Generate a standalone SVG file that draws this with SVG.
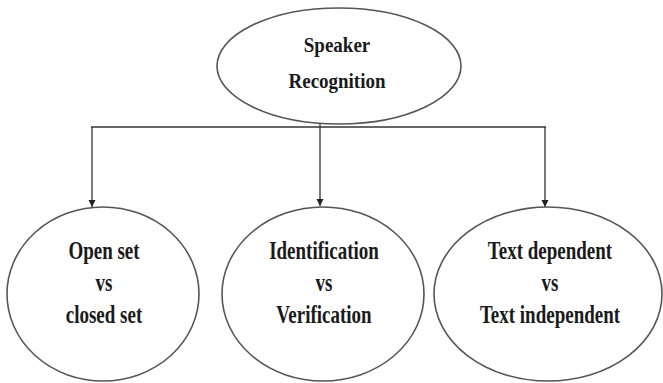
<svg xmlns="http://www.w3.org/2000/svg" width="663" height="383" viewBox="0 0 663 383">
<defs>
<marker id="arr" viewBox="0 0 10 10" refX="10" refY="5" markerWidth="7" markerHeight="9" orient="auto" markerUnits="userSpaceOnUse">
<path d="M0,0 L10,5 L0,10 Z" fill="#222"/>
</marker>
<style>
.shape{fill:#fff;stroke:#555;stroke-width:1.6}
.lbl{font-family:"Liberation Serif","Times New Roman",serif;font-weight:bold;fill:#1a1a1a;text-anchor:middle}
.top{font-size:19px}
.bot{font-size:19px}
.conn{fill:none;stroke:#333;stroke-width:1.3}
.bus{fill:none;stroke:#666;stroke-width:2.2}
</style>
</defs>
<rect width="663" height="383" fill="#fff"/>
<g id="connectors">
<line class="bus" x1="91" y1="127" x2="546" y2="127"/>
<line class="conn" x1="92" y1="127" x2="92" y2="207" marker-end="url(#arr)"/>
<line class="conn" x1="320" y1="124" x2="320" y2="206" marker-end="url(#arr)"/>
<line class="conn" x1="545" y1="127" x2="545" y2="207" marker-end="url(#arr)"/>
</g>
<g id="speaker-recognition">
<ellipse class="shape" cx="339" cy="66" rx="122" ry="58"/>
<g transform="translate(337,52) scale(1,1.12)"><text class="lbl top" x="0" y="0">Speaker</text></g>
<g transform="translate(337,88) scale(1,1.12)"><text class="lbl top" x="0" y="0">Recognition</text></g>
</g>
<g id="open-closed">
<ellipse class="shape" cx="103" cy="294" rx="96" ry="87"/>
<g transform="translate(104,259) scale(1,1.3)"><text class="lbl bot">Open set</text></g>
<g transform="translate(104,291) scale(1,1.3)"><text class="lbl bot">vs</text></g>
<g transform="translate(104,323) scale(1,1.3)"><text class="lbl bot">closed set</text></g>
</g>
<g id="identification-verification">
<ellipse class="shape" cx="323" cy="294" rx="101" ry="87"/>
<g transform="translate(324,259) scale(1,1.3)"><text class="lbl bot">Identification</text></g>
<g transform="translate(324,291) scale(1,1.3)"><text class="lbl bot">vs</text></g>
<g transform="translate(324,323) scale(1,1.3)"><text class="lbl bot">Verification</text></g>
</g>
<g id="text-dependence">
<ellipse class="shape" cx="548" cy="294" rx="114" ry="87"/>
<g transform="translate(550,259) scale(1,1.3)"><text class="lbl bot">Text dependent</text></g>
<g transform="translate(550,291) scale(1,1.3)"><text class="lbl bot">vs</text></g>
<g transform="translate(550,323) scale(1,1.3)"><text class="lbl bot">Text independent</text></g>
</g>
</svg>
